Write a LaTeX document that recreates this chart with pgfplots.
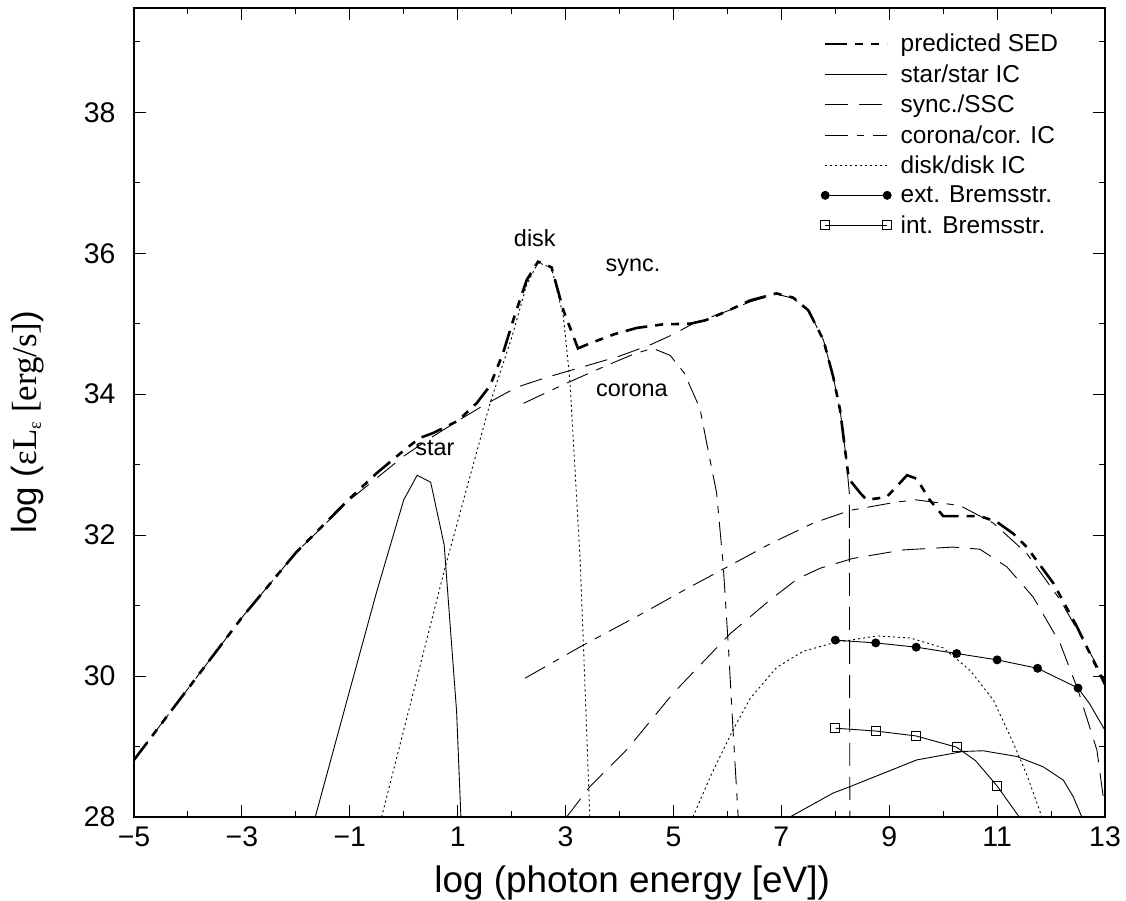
\documentclass[border=0pt]{standalone}
\usepackage{fontspec}
\setmainfont{Liberation Sans}
\newfontfamily\serifx{Liberation Serif}
\usepackage{pgfplots}
\pgfplotsset{compat=1.18}
\usetikzlibrary{calc}

\begin{document}
\begin{tikzpicture}
\begin{axis}[
  name=ax,
  width=971bp, height=809bp, scale only axis,
  xmin=-5, xmax=13, ymin=28, ymax=39.48,
  xtick={-5,-3,...,13}, minor xtick={-4,-2,...,12},
  xticklabels={−5,−3,−1,1,3,5,7,9,11,13},
  ytick={28,30,...,38}, minor ytick={29,31,...,39},
  yticklabels={28,30,32,34,36,38},
  tick align=inside, major tick length=12bp, minor tick length=6bp,
  every tick/.style={line width=1bp, black},
  axis line style={line width=1.3bp},
  ticklabel style={font=\fontsize{28.5}{30}\selectfont},
  xticklabel style={yshift=-6bp},
  yticklabel style={xshift=-15bp},
  xlabel={log (photon energy [eV])},
  xlabel style={font=\fontsize{37}{40}\selectfont, at={(axis description cs:0.513,0)}, anchor=base, yshift=-75bp},
  ylabel={log ({\serifx ε\kern0.5bp L\raisebox{-0.25ex}{\fontsize{18}{18}\selectfont ε} [erg/s]})},
  ylabel style={font=\fontsize{35}{40}\selectfont, at={(axis description cs:-0.1092,0.488)}, anchor=center, rotate=0},
  legend image code/.code={\draw[mark repeat=1,mark phase=1,#1] plot coordinates {(0bp,0bp) (62bp,0bp)};},
  legend style={at={(0.707,0.969)}, anchor=north west, draw=none, fill=none,
    font=\fontsize{24.5}{27}\selectfont, inner sep=0pt, row sep=9.2bp,
    nodes={inner sep=1bp},
    /tikz/every odd column/.append style={column sep=8bp}},
  legend cell align=left,
  every axis plot/.append style={line width=0.9bp, black},
]
% predicted SED
\addplot[line width=2.6bp, dash pattern=on 22bp off 8bp on 8bp off 8bp on 8bp off 8bp] coordinates {
(-5,28.81) (-4,29.82) (-3,30.83) (-2,31.75) (-1,32.52) (-0.5,32.88) (0,33.2) (0.3,33.38) (0.55,33.45) (1.0,33.62) (1.35,33.87) (1.6,34.12) (1.84,34.58) (2.05,35.1) (2.28,35.62) (2.49,35.88) (2.74,35.8) (2.96,35.19) (3.23,34.65) (3.45,34.72) (3.9,34.85) (4.32,34.94) (4.8,34.99) (5.31,35.0) (5.6,35.05) (6.0,35.18) (6.42,35.33) (6.91,35.43) (7.22,35.37) (7.5,35.19) (7.78,34.77) (7.96,34.25) (8.09,33.77) (8.2,33.1) (8.25,32.8) (8.46,32.6) (8.58,32.5) (8.95,32.54) (9.15,32.7) (9.33,32.85) (9.51,32.8) (9.75,32.5) (10.0,32.27) (10.35,32.27) (10.68,32.27) (10.99,32.19) (11.3,32.02) (11.55,31.83) (12.04,31.32) (12.48,30.7) (13,29.88)};
\addlegendentry{predicted SED}
% star
\addplot[solid] coordinates {(-1.64,28) (-1,29.8) (-0.5,31.2) (0,32.5) (0.25,32.85) (0.5,32.75) (0.75,31.86) (0.98,29.5) (1.06,28)};
\addlegendentry{star/star IC}
\addplot[solid, forget plot] coordinates {(7.16,28) (7.96,28.34) (8.27,28.43) (9.51,28.81) (10.37,28.93) (10.74,28.94) (11.36,28.86) (11.86,28.71) (12.23,28.52) (12.41,28.29) (12.57,28)};
% sync / SSC
\addplot[dash pattern=on 23bp off 11bp] coordinates {
(-5,28.81) (-4,29.82) (-3,30.83) (-2,31.75) (-1,32.5) (0,33.12) (0.5,33.38) (1,33.62) (1.5,33.85) (2.1,34.1) (2.7,34.25) (3.33,34.39) (4,34.54) (4.57,34.7) (5.0,34.85) (5.36,35.0) (6,35.18) (6.42,35.31) (6.91,35.42) (7.22,35.36) (7.5,35.19) (7.78,34.77) (7.96,34.25) (8.09,33.77) (8.2,33.1) (8.26,32.6) (8.27,28)};
\addlegendentry{sync./SSC}
\addplot[forget plot, dash pattern=on 23bp off 11bp] coordinates {
(3.02,28) (3.45,28.43) (4.13,28.95) (5,29.76) (6.05,30.6) (6.79,31.08) (7.3,31.38) (7.72,31.53) (8.33,31.67) (9.26,31.79) (10.18,31.83) (10.68,31.8) (11.18,31.55) (11.67,31.12) (12.17,30.46) (12.5,29.8) (12.85,28.95) (13,28.1)};
% corona / cor IC
\addplot[dash pattern=on 23bp off 9bp on 7bp off 9bp] coordinates {
(2.22,33.87) (3,34.15) (3.8,34.42) (4.3,34.58) (4.62,34.65) (4.94,34.55) (5.2,34.3) (5.49,33.8) (5.68,33.06) (5.8,32.6) (5.92,31.6) (6.02,30.4) (6.1,29.3) (6.2,28)};
\addlegendentry{corona/cor. IC}
\addplot[forget plot, dash pattern=on 23bp off 9bp on 7bp off 9bp] coordinates {
(2.25,29.97) (3.33,30.44) (4.38,30.87) (5.2,31.22) (6.05,31.57) (6.8,31.88) (7.59,32.17) (8.27,32.35) (9.14,32.47) (9.5,32.5) (10.31,32.42) (10.93,32.17) (11.55,31.74) (12.17,31.08) (12.66,30.42) (13,29.94)};
% disk / disk IC
\addplot[dash pattern=on 2bp off 3bp] coordinates {
(-0.41,28) (0.77,31.55) (1.6,33.87) (2.0,34.8) (2.28,35.55) (2.49,35.87) (2.74,35.79) (2.96,35.1) (3.08,34.2) (3.2,32.6) (3.27,31.65) (3.33,30.47) (3.45,28)};
\addlegendentry{disk/disk IC}
\addplot[forget plot, dash pattern=on 2bp off 3bp] coordinates {
(5.36,28) (5.7,28.6) (6.1,29.23) (6.42,29.68) (6.91,30.12) (7.4,30.35) (7.96,30.47) (8.77,30.57) (9.39,30.54) (10.0,30.4) (10.5,30.08) (10.93,29.66) (11.3,29.05) (11.55,28.6) (11.83,28)};
% ext Bremsstr
\addplot[solid, mark=*, mark size=4bp, mark indices={1,2,3,4,5,6,7}, mark options={solid}] coordinates {
(8,30.51) (8.75,30.47) (9.5,30.41) (10.25,30.32) (11,30.23) (11.75,30.11) (12.5,29.83) (12.72,29.6) (13,29.23)};
\addlegendentry{ext. Bremsstr.}
% int Bremsstr
\addplot[solid, mark=square, mark size=4.5bp, mark indices={1,2,3,4,6}, mark options={solid, fill=white, line width=0.8bp}] coordinates {
(8,29.26) (8.75,29.22) (9.5,29.15) (10.25,28.99) (10.6,28.8) (11,28.44) (11.41,28)};
\addlegendentry{int. Bremsstr.}

\node[font=\fontsize{23.5}{25}\selectfont] at (axis cs:2.43,36.21) {disk};
\node[font=\fontsize{23.5}{25}\selectfont] at (axis cs:4.25,35.79) {sync.};
\node[font=\fontsize{23.5}{25}\selectfont] at (axis cs:4.23,34.05) {corona};
\node[font=\fontsize{23.5}{25}\selectfont] at (axis cs:0.58,33.23) {star};
\end{axis}
\pgfresetboundingbox
\path[use as bounding box] ($(ax.south west)+(-134bp,-84bp)$) rectangle ($(ax.north east)+(21bp,8bp)$);
\end{tikzpicture}
\end{document}
